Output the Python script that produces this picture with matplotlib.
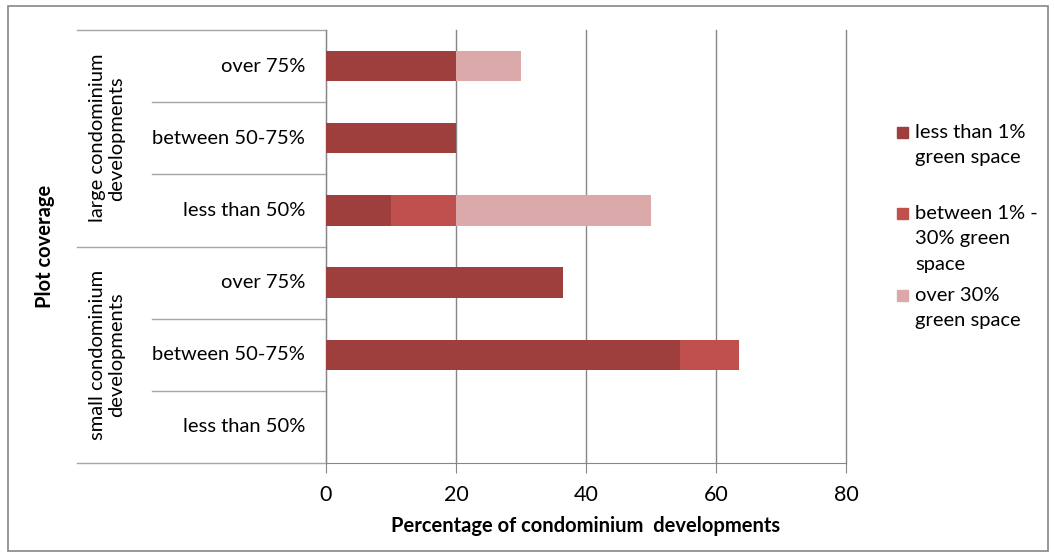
import matplotlib.pyplot as plt
import matplotlib.transforms as mtransforms
from matplotlib.patches import Rectangle

# plot coverage rows, top to bottom
coverage = ["over 75%", "between 50-75%", "less than 50%",
            "over 75%", "between 50-75%", "less than 50%"]
groups = ["large condominium\ndevelopments", "small condominium\ndevelopments"]

series_names = ["less than 1%\ngreen space",
                "between 1% -\n30% green\nspace",
                "over 30%\ngreen space"]
less_than_1 = [20, 20, 10, 36.4, 54.5, 0]
between_1_30 = [0, 0, 10, 0, 9.1, 0]
over_30 = [10, 0, 30, 0, 0, 0]
colors = ["#9E3F3E", "#C0504D", "#DBA9A9"]

plt.rcParams["font.family"] = ["Lato", "DejaVu Sans"]
fs = 14.5

fig = plt.figure(figsize=(10.54, 5.54), dpi=100)
ax = fig.add_axes([326 / 1054, 1 - 463 / 554, 520 / 1054, 433 / 554])

ypos = list(range(len(coverage)))
left = [0] * len(coverage)
for vals, col in zip([less_than_1, between_1_30, over_30], colors):
    ax.barh(ypos, vals, left=left, height=0.42, color=col, zorder=3)
    left = [a + b for a, b in zip(left, vals)]

ax.set_xlim(0, 80)
ax.set_ylim(len(coverage) - 0.5, -0.5)
ax.set_xticks([0, 20, 40, 60, 80])
ax.tick_params(axis="x", labelsize=fs + 1, length=7, color="#868686", pad=9)
ax.set_yticks([])
ax.grid(axis="x", color="#868686", lw=1, zorder=0)
for line in ax.get_xgridlines():
    line.set_clip_on(False)
for s in ["top", "right"]:
    ax.spines[s].set_visible(False)
for s in ["left", "bottom"]:
    ax.spines[s].set_color("#868686")
ax.set_xlabel("Percentage of condominium  developments", fontsize=fs,
              fontweight="bold", labelpad=8)

# two-level category axis on the left
tr = mtransforms.blended_transform_factory(ax.transAxes, ax.transData)
x_inner = (152 - 326) / 520
x_outer = (77 - 326) / 520
for i, lab in enumerate(coverage):
    ax.text(-0.04, i, lab, transform=tr, ha="right", va="center", fontsize=fs)
for b in [0.5, 1.5, 3.5, 4.5]:
    ax.plot([x_inner, 0], [b, b], transform=tr, color="#A6A6A6", lw=1, clip_on=False)
for b in [-0.5, 2.5, 5.5]:
    ax.plot([x_outer, 0], [b, b], transform=tr, color="#A6A6A6", lw=1, clip_on=False)
for g, lab in enumerate(groups):
    ax.text((107 - 326) / 520, 3 * g + 1, lab, transform=tr, rotation=90,
            ha="center", va="center", fontsize=fs, linespacing=1.15)
ax.text((45 - 326) / 520, 0.5, "Plot coverage", transform=ax.transAxes,
        rotation=90, ha="center", va="center", fontsize=fs, fontweight="bold")

# legend drawn by hand so the entries sit like the original layout
leg_y = [133, 214, 296]
for name, col, y in zip(series_names, colors, leg_y):
    fig.patches.append(Rectangle((897 / 1054, 1 - (y + 5) / 554), 11 / 1054, 11 / 554,
                                 transform=fig.transFigure, color=col))
    fig.text(915 / 1054, 1 - (y - 9) / 554, name, ha="left", va="top",
             fontsize=fs, linespacing=1.6)

# chart border
fig.patches.append(Rectangle((8 / 1054, 3 / 554), 1040 / 1054, 545 / 554,
                             transform=fig.transFigure, fill=False,
                             edgecolor="#868686", lw=1.2))

fig.savefig("out.png", dpi=100)
